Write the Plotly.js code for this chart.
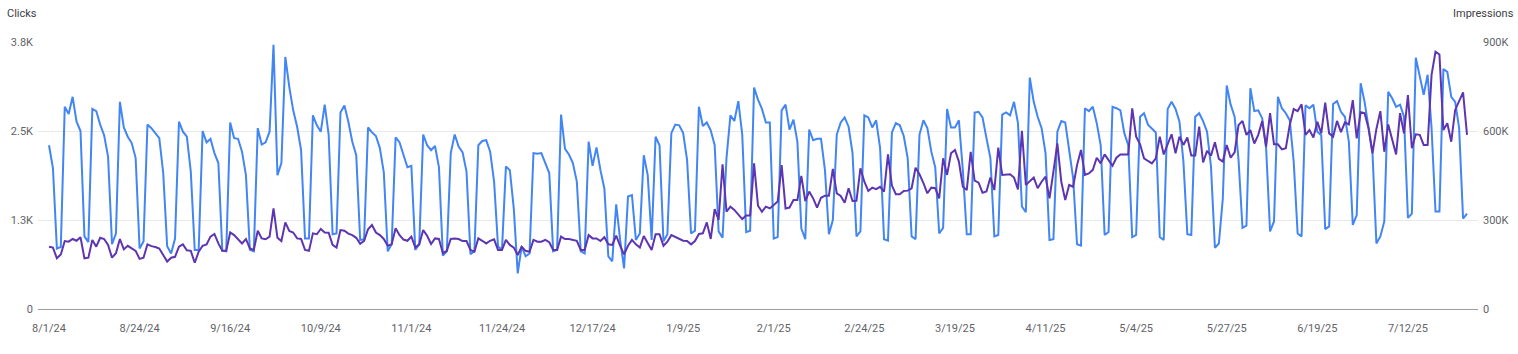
<!DOCTYPE html>
<html>
<head>
<meta charset="utf-8">
<script src="https://cdn.plot.ly/plotly-3.0.1.min.js"></script>
<style>
  html, body { margin: 0; padding: 0; background: #ffffff; }
  #chart { width: 1518px; height: 354px; }
</style>
</head>
<body>
<div id="chart"></div>
<script>
// Daily data, first day 2024-08-01
const startDate = "2024-08-01";

const clicks = [
  2300,1980,850,870,2840,2740,2980,2630,2500,1020,
  940,2810,2780,2590,2440,2140,910,1060,2910,2550,
  2420,2330,2120,850,950,2590,2540,2470,2400,1910,
  880,780,990,2630,2490,2420,1930,830,830,2500,
  2340,2390,2190,2050,820,810,2620,2400,2390,2210,
  1880,830,810,2540,2310,2340,2490,3710,1880,2050,
  3540,3120,2790,2560,2230,990,990,2720,2580,2490,
  2870,2450,1050,1060,2760,2860,2630,2350,2160,970,
  980,2550,2480,2430,2260,1920,810,910,2410,2340,
  2160,1990,2010,830,910,2450,2300,2230,2290,1990,
  750,810,2190,2450,2280,2200,1930,770,810,2300,
  2360,2370,2210,1790,880,830,2000,1950,1410,500,
  880,740,780,2190,2180,2190,2050,1910,810,830,
  2730,2250,2170,2050,1790,810,780,2350,2010,2270,
  1950,1690,740,670,1470,970,570,1580,1600,970,
  1060,2160,1880,970,2420,2300,950,1050,2470,2590,
  2580,2470,2090,1060,1100,2840,2570,2620,2510,2300,
  1090,1000,2120,2720,2640,2920,2450,1080,1100,3110,
  2940,2810,2620,2620,990,1010,2790,2870,2520,2660,
  2350,1130,980,2520,2370,2390,2390,1950,1050,1250,
  2450,2620,2690,2560,2190,1020,1090,2720,2690,2550,
  2650,2260,980,960,2480,2610,2580,2430,2120,1020,
  980,2450,2650,2540,2210,1990,1060,1140,2810,2550,
  2550,2650,1950,1050,1050,2760,2770,2690,2400,2120,
  1020,1040,2730,2760,2720,2910,2610,1440,1360,3250,
  2910,2700,2540,2190,970,980,2490,2640,2620,2260,
  1840,910,890,2820,2780,2840,2610,2300,1040,1080,
  2840,2820,2790,2470,2300,1010,1040,2700,2750,2590,
  2540,2480,1010,970,2810,2910,2810,2630,2070,1050,
  1040,2700,2750,2640,2490,2000,860,920,1550,3140,
  2870,2700,2090,1140,1170,3100,2780,2790,2680,2260,
  1090,1230,2980,2820,2750,2650,2070,1060,1020,2860,
  2820,2870,2490,2440,1120,1160,2880,2920,2770,2700,
  2350,1180,1320,3170,2910,2580,2190,920,1020,1230,
  3050,2960,2840,2870,2700,1280,1340,3530,3260,3010,
  3290,2540,1370,1370,3370,3330,2980,2910,2540,1270,1340
];

const impressions = [
  210000,207000,171000,184000,229000,227000,236000,230000,242000,171000,
  173000,233000,210000,240000,236000,216000,173000,188000,236000,201000,
  213000,204000,196000,169000,173000,218000,212000,209000,204000,182000,
  160000,173000,176000,210000,218000,198000,196000,156000,193000,213000,
  218000,244000,253000,221000,196000,196000,258000,249000,236000,221000,
  236000,204000,199000,264000,238000,235000,244000,339000,240000,229000,
  292000,263000,258000,238000,236000,199000,196000,255000,252000,270000,
  258000,257000,216000,207000,266000,264000,254000,249000,240000,220000,
  230000,269000,283000,258000,249000,236000,213000,218000,272000,249000,
  234000,230000,244000,207000,218000,266000,247000,219000,238000,236000,
  188000,196000,236000,238000,236000,229000,229000,199000,193000,238000,
  230000,221000,230000,235000,199000,199000,233000,216000,207000,182000,
  210000,196000,193000,233000,227000,227000,233000,225000,199000,199000,
  244000,236000,236000,233000,230000,199000,199000,249000,238000,238000,
  229000,242000,218000,216000,247000,213000,184000,213000,233000,218000,
  207000,246000,221000,199000,252000,252000,213000,227000,249000,242000,
  236000,230000,229000,218000,229000,253000,255000,292000,236000,337000,
  300000,488000,328000,345000,334000,317000,303000,315000,315000,491000,
  348000,328000,345000,339000,351000,362000,485000,339000,342000,367000,
  367000,449000,364000,396000,373000,342000,375000,382000,382000,472000,
  390000,381000,358000,407000,364000,365000,474000,429000,398000,409000,
  404000,412000,396000,521000,416000,387000,387000,398000,399000,407000,
  476000,454000,424000,390000,409000,407000,373000,508000,452000,525000,
  536000,497000,412000,401000,530000,433000,426000,392000,396000,443000,
  401000,544000,452000,454000,454000,443000,403000,601000,418000,431000,
  443000,407000,429000,446000,373000,463000,558000,429000,367000,418000,
  412000,485000,536000,452000,457000,469000,510000,491000,521000,502000,
  483000,510000,521000,521000,521000,676000,581000,555000,508000,499000,
  491000,508000,581000,521000,558000,589000,525000,581000,553000,578000,
  517000,517000,615000,494000,533000,517000,562000,506000,497000,553000,
  510000,528000,620000,634000,587000,603000,558000,587000,634000,547000,
  660000,555000,555000,538000,542000,620000,674000,667000,690000,587000,
  603000,578000,631000,592000,696000,592000,581000,634000,596000,629000,
  622000,704000,575000,663000,660000,609000,525000,607000,667000,530000,
  622000,575000,521000,660000,592000,721000,542000,589000,587000,553000,
  553000,789000,867000,858000,603000,626000,564000,671000,699000,730000,587000
];

const xTickDates = ["2024-08-01","2024-08-24","2024-09-16","2024-10-09","2024-11-01","2024-11-24",
  "2024-12-17","2025-01-09","2025-02-01","2025-02-24","2025-03-19","2025-04-11","2025-05-04",
  "2025-05-27","2025-06-19","2025-07-12"];
const xTickLabels = ["8/1/24","8/24/24","9/16/24","10/9/24","11/1/24","11/24/24","12/17/24",
  "1/9/25","2/1/25","2/24/25","3/19/25","4/11/25","5/4/25","5/27/25","6/19/25","7/12/25"];

const clickTicks = [0, 1250, 2500, 3750];
const clickTickLabels = ["0", "1.3K", "2.5K", "3.8K"];
const imprTicks = [0, 300000, 600000, 900000];
const imprTickLabels = ["0", "300K", "600K", "900K"];

// build the date categories
const DAY = 86400000;
const t0 = Date.parse(startDate + "T00:00:00Z");
function fmt(ms) {
  const d = new Date(ms);
  const p = n => String(n).padStart(2, "0");
  return d.getUTCFullYear() + "-" + p(d.getUTCMonth() + 1) + "-" + p(d.getUTCDate()) +
    " " + p(d.getUTCHours()) + ":" + p(d.getUTCMinutes()) + ":" + p(d.getUTCSeconds());
}
const dates = clicks.map((_, i) => fmt(t0 + i * DAY).slice(0, 10));
const lastMs = t0 + (clicks.length - 1) * DAY;
const pad = 2.79 * DAY;

const font = "Roboto, Arial, sans-serif";
const grey = "#5f6368";

const traces = [
  {
    x: dates, y: clicks, type: "scatter", mode: "lines", name: "Clicks",
    line: { color: "#4285f4", width: 2 }, yaxis: "y", hoverinfo: "x+y"
  },
  {
    x: dates, y: impressions, type: "scatter", mode: "lines", name: "Impressions",
    line: { color: "#5e35b1", width: 2 }, yaxis: "y2", hoverinfo: "x+y"
  }
];

const layout = {
  width: 1518, height: 354,
  margin: { l: 38, r: 40, t: 42, b: 45, pad: 0 },
  paper_bgcolor: "#ffffff", plot_bgcolor: "#ffffff",
  showlegend: false,
  font: { family: font, size: 11, color: grey },
  xaxis: {
    type: "date",
    range: [fmt(t0 - pad), fmt(lastMs + pad)],
    tickmode: "array", tickvals: xTickDates, ticktext: xTickLabels,
    showgrid: false, zeroline: false, showline: false,
    ticks: "outside", ticklen: 9, tickcolor: "rgba(0,0,0,0)",
    tickfont: { family: font, size: 11, color: grey }
  },
  yaxis: {
    range: [0, 3750],
    tickmode: "array", tickvals: clickTicks, ticktext: clickTickLabels,
    showgrid: true, gridcolor: "#e8e8e8", gridwidth: 1,
    zeroline: true, zerolinecolor: "#9e9e9e", zerolinewidth: 1,
    showline: false, ticks: "", ticklabelstandoff: 4,
    tickfont: { family: font, size: 11, color: grey }
  },
  yaxis2: {
    range: [0, 900000], overlaying: "y", side: "right",
    tickmode: "array", tickvals: imprTicks, ticktext: imprTickLabels,
    showgrid: false, zeroline: false, showline: false, ticks: "", ticklabelstandoff: 4,
    tickfont: { family: font, size: 11, color: grey }
  },
  annotations: [
    { text: "Clicks", xref: "paper", yref: "paper", x: -38/1440 + 5/1440, y: 1, yshift: 29,
      xanchor: "left", yanchor: "middle", showarrow: false,
      font: { family: font, size: 11, color: "#3c4043" } },
    { text: "Impressions", xref: "paper", yref: "paper", x: 1 + 38/1440, y: 1, yshift: 29,
      xanchor: "right", yanchor: "middle", showarrow: false,
      font: { family: font, size: 11, color: "#3c4043" } }
  ]
};

Plotly.newPlot("chart", traces, layout, { displayModeBar: false, staticPlot: true });
</script>
</body>
</html>
